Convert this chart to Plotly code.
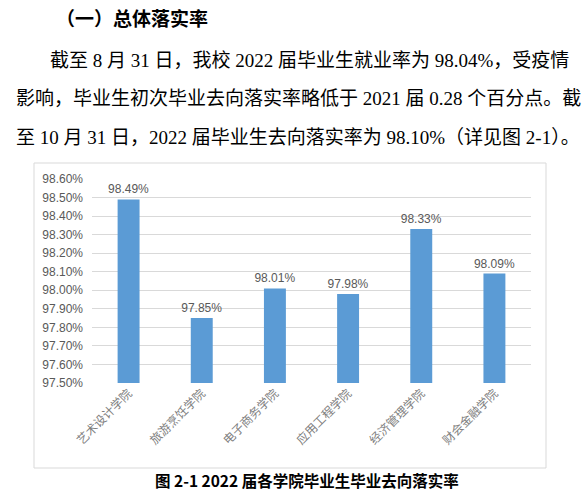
import plotly.graph_objects as go

categories = ["艺术设计学院", "旅游烹饪学院", "电子商务学院", "应用工程学院", "经济管理学院", "财会金融学院"]
rates = [98.49, 97.85, 98.01, 97.98, 98.33, 98.09]
y_ticks = [97.5, 97.6, 97.7, 97.8, 97.9, 98.0, 98.1, 98.2, 98.3, 98.4, 98.5, 98.6]

heading = "（一）总体落实率"
para_lines = [
    "截至 8 月 31 日，我校 2022 届毕业生就业率为 98.04%，受疫情",
    "影响，毕业生初次毕业去向落实率略低于 2021 届 0.28 个百分点。截",
    "至 10 月 31 日，2022 届毕业生去向落实率为 98.10%（详见图 2-1）。",
]
caption = "图 2-1 2022 届各学院毕业生毕业去向落实率"

W, H = 587, 495
L, R, T, B = 92, 531, 179, 383  # plot area in pixels

def px(x):
    return (x - L) / (R - L)

def py(y):
    return (B - y) / (B - T)

SERIF = "Liberation Serif, Noto Sans CJK SC, serif"
CJK = "Noto Sans CJK SC, sans-serif"

fig = go.Figure(go.Bar(
    x=categories, y=rates,
    marker=dict(color="#5b9bd5", line=dict(width=0)),
    text=[f"{v:.2f}%" for v in rates], textposition="outside",
    constraintext="none",
    textfont=dict(family="Liberation Sans, Arial", size=12, color="#595959"),
    cliponaxis=False, width=0.3, hoverinfo="skip",
))

fig.update_layout(
    width=W, height=H,
    margin=dict(l=L, r=W - R, t=T, b=H - B, autoexpand=False),
    paper_bgcolor="white", plot_bgcolor="white",
    showlegend=False,
    xaxis=dict(showgrid=False, tickangle=-45, ticks="", showline=False,
               tickfont=dict(family=CJK, size=12, color="#808080"), automargin=False),
    yaxis=dict(range=[97.5, 98.6], tickvals=y_ticks, ticktext=[f"{v:.2f}%" for v in y_ticks],
               showgrid=True, gridcolor="#d9d9d9", gridwidth=1, zeroline=False,
               showline=False, ticks="", ticklabelstandoff=8,
               tickfont=dict(family="Liberation Sans, Arial", size=12, color="#595959"),
               automargin=False),
    shapes=[dict(type="rect", xref="paper", yref="paper",
                 x0=px(34), x1=px(546), y0=py(468), y1=py(163),
                 line=dict(color="#d9d9d9", width=1), layer="below")],
)

ann = []
ann.append(dict(text="<b>" + heading + "</b>", x=px(54), y=py(17), xref="paper", yref="paper",
                xanchor="left", yanchor="middle", showarrow=False,
                font=dict(family=CJK, size=19, color="black")))
line_pos = [(48, 60), (14, 98), (14, 137)]
for txt, (x0, y0) in zip(para_lines, line_pos):
    ann.append(dict(text=txt, x=px(x0), y=py(y0), xref="paper", yref="paper",
                    xanchor="left", yanchor="middle", showarrow=False,
                    font=dict(family=SERIF, size=19, color="black")))
ann.append(dict(text="<b>" + caption + "</b>", x=px(307), y=py(480), xref="paper", yref="paper",
                xanchor="center", yanchor="middle", showarrow=False,
                font=dict(family=CJK, size=15.5, color="black")))
fig.update_layout(annotations=ann)

fig.write_html("out.html", config={"displayModeBar": False},
               post_script="document.body.style.margin='0';document.body.style.overflow='hidden';")
